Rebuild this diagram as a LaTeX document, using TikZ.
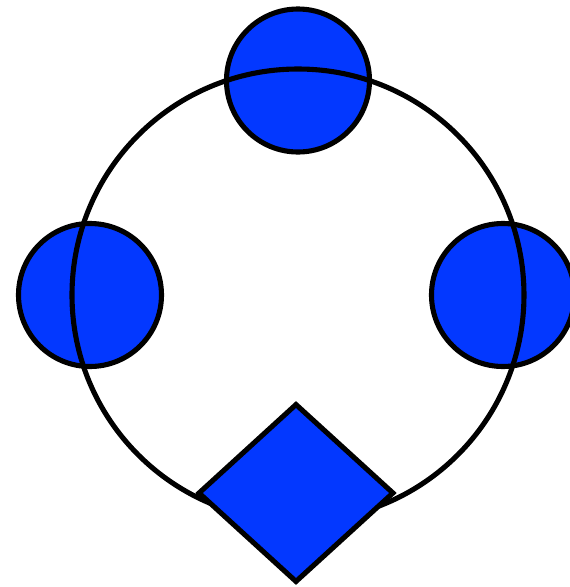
\documentclass[tikz,border=0pt]{standalone}
\usetikzlibrary{shapes.geometric}
\definecolor{blobblue}{RGB}{3,56,255}
\begin{document}
\begin{tikzpicture}[line width=2.9pt,
  blob/.style={circle, draw=black, fill=blobblue, minimum size=2.86cm, inner sep=0pt},
  ring/.style={circle, draw=black, minimum size=9.04cm, inner sep=0pt},
  gem/.style={diamond, draw=black, fill=blobblue, minimum width=3.92cm, minimum height=3.58cm, inner sep=0pt}]
\useasboundingbox (-5.96,-5.84) rectangle (5.44,5.9);

\node[blob] (haut) at (0, 4.29) {};
\node[blob] (gauche) at (-4.16, 0) {};
\node[blob] (droite) at (4.1, 0) {};
\node[ring] (anneau) at (0, 0) {};
\node[gem] (losange) at (-0.04, -3.96) {};
\end{tikzpicture}
\end{document}
